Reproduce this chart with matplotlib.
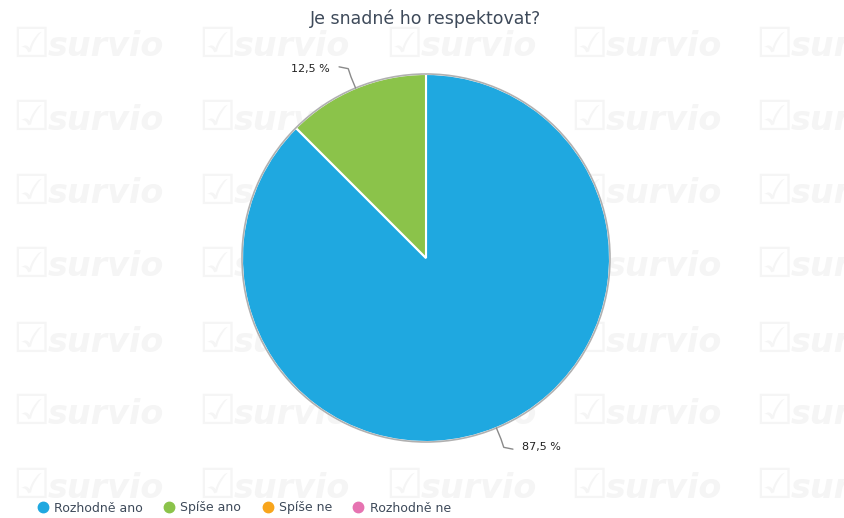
import matplotlib
matplotlib.use("Agg")
import matplotlib.pyplot as plt
from matplotlib.lines import Line2D
import numpy as np

title = "Je snadné ho respektovat?"
categories = ["Rozhodně ano", "Spíše ano", "Spíše ne", "Rozhodně ne"]
values = [87.5, 12.5, 0.0, 0.0]
labels = ["87,5 %", "12,5 %", "", ""]
colors = ["#1fa8e0", "#8bc34a", "#f8a51c", "#e673b1"]

W, H = 845, 518
fig = plt.figure(figsize=(W / 100, H / 100), dpi=100)
fig.patch.set_facecolor("white")

# watermark
wm = "#f5f5f5"
for cx in [12, 198, 385, 570, 755]:
    for cy in [45, 118, 192, 265, 340, 412, 486]:
        fig.text(cx / W, 1 - cy / H, "☑", fontsize=30, color=wm,
                 ha="left", va="center", zorder=-2, family="DejaVu Sans")
        fig.text((cx + 36) / W, 1 - (cy + 2) / H, "survio", fontsize=24,
                 color=wm, ha="left", va="center", zorder=-2,
                 fontweight="bold", fontstyle="italic", family="DejaVu Sans")

cx_px, cy_px = 426, 258
size = 460
ax = fig.add_axes([(cx_px - size / 2) / W, (H - cy_px - size / 2) / H, size / W, size / H])
ax.set_xlim(-1.25, 1.25)
ax.set_ylim(-1.25, 1.25)
ax.set_aspect("equal")
ax.axis("off")

nz = [(v, c, l) for v, c, l in zip(values, colors, labels) if v > 0]
wedges, _ = ax.pie([v for v, _, _ in nz], colors=[c for _, c, _ in nz],
                   startangle=90, counterclock=False, radius=1.0,
                   wedgeprops=dict(edgecolor="white", linewidth=1.5))
ax.add_patch(plt.Circle((0, 0), 1.0, fill=False, edgecolor="#b0b0b0", linewidth=1.2, zorder=5))

for w, (v, c, l) in zip(wedges, nz):
    mid = np.deg2rad((w.theta1 + w.theta2) / 2)
    x0, y0 = np.cos(mid), np.sin(mid)
    side = 1 if x0 > 0 else -1
    vs = 1 if y0 > 0 else -1
    x1, y1 = 1.065 * x0, 1.065 * y0
    x2, y2 = x1 + 0.065 * side, y1 + 0.055 * vs
    xm, ym = x1 + 0.015 * side, y1 + 0.045 * vs
    ax.plot([x0, x1, xm, x2], [y0, y1, ym, y2], color="#8a8a8a", linewidth=1, zorder=6,
            solid_capstyle="round", solid_joinstyle="round", clip_on=False)
    ax.text(x2 + 0.05 * side, y2 - 0.012 * vs, l, ha="left" if side > 0 else "right",
            va="center", fontsize=8, color="#222222", family="DejaVu Sans", clip_on=False)

fig.text(cx_px / W, 1 - 19 / H, title, ha="center", va="center", fontsize=12.5,
         color="#3e4a5a", family="DejaVu Sans")

handles = [Line2D([0], [0], marker="o", linestyle="none", markersize=7.5,
                  markerfacecolor=c, markeredgecolor=c) for c in colors]
leg = fig.legend(handles, categories, loc="center left", bbox_to_anchor=(38 / W, 1 - 508 / H),
                 ncol=4, frameon=False, handletextpad=0.5, columnspacing=1.7,
                 borderaxespad=0, borderpad=0, handlelength=0.8,
                 prop={"family": "DejaVu Sans", "size": 9})
for t in leg.get_texts():
    t.set_color("#3e4a5a")

fig.savefig("out.png", dpi=100, facecolor="white")
